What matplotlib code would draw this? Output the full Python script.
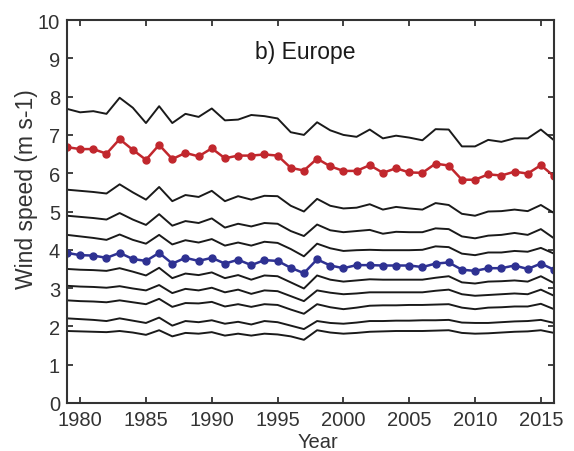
import numpy as np
import matplotlib
matplotlib.use('Agg')
from matplotlib import pyplot as plt

plt.rcParams['font.family'] = ['Liberation Sans', 'DejaVu Sans']

years = np.arange(1979, 2017)

# black percentile lines, top to bottom
p_top = [7.68, 7.59, 7.62, 7.55, 7.97, 7.71, 7.31, 7.75, 7.31, 7.55, 7.47, 7.69, 7.38, 7.40, 7.52, 7.49, 7.43, 7.07, 7.00,
         7.33, 7.12, 7.00, 6.95, 7.14, 6.91, 6.98, 6.93, 6.86, 7.15, 7.14, 6.70, 6.70, 6.87, 6.82, 6.91, 6.91, 7.14, 6.86]
p_3 = [5.57, 5.54, 5.51, 5.47, 5.71, 5.50, 5.31, 5.64, 5.27, 5.43, 5.38, 5.54, 5.27, 5.40, 5.31, 5.41, 5.40, 5.15, 5.00,
       5.33, 5.15, 5.08, 5.10, 5.19, 5.05, 5.12, 5.08, 5.05, 5.22, 5.17, 4.94, 4.89, 5.00, 5.01, 5.05, 5.01, 5.17, 4.96]
p_4 = [4.89, 4.86, 4.83, 4.79, 4.96, 4.79, 4.65, 4.93, 4.63, 4.75, 4.70, 4.82, 4.58, 4.68, 4.61, 4.70, 4.68, 4.49, 4.36,
       4.66, 4.51, 4.46, 4.49, 4.52, 4.42, 4.47, 4.46, 4.46, 4.56, 4.54, 4.35, 4.30, 4.37, 4.39, 4.44, 4.39, 4.54, 4.30]
p_5 = [4.39, 4.35, 4.31, 4.26, 4.40, 4.26, 4.16, 4.39, 4.14, 4.25, 4.19, 4.28, 4.11, 4.19, 4.11, 4.21, 4.18, 4.02, 3.83,
       4.16, 4.04, 3.97, 3.99, 4.00, 3.99, 3.99, 3.99, 4.00, 4.09, 4.07, 3.90, 3.86, 3.93, 3.93, 3.97, 3.95, 4.05, 3.90]
p_7 = [3.50, 3.48, 3.47, 3.45, 3.52, 3.43, 3.33, 3.53, 3.26, 3.38, 3.34, 3.41, 3.26, 3.34, 3.22, 3.33, 3.31, 3.15, 2.99,
       3.33, 3.22, 3.17, 3.20, 3.23, 3.22, 3.22, 3.22, 3.22, 3.27, 3.31, 3.15, 3.12, 3.17, 3.18, 3.20, 3.17, 3.31, 3.13]
p_8 = [3.06, 3.04, 3.03, 3.01, 3.05, 2.99, 2.94, 3.08, 2.87, 2.98, 2.94, 3.01, 2.89, 2.96, 2.85, 2.94, 2.92, 2.79, 2.66,
       2.94, 2.88, 2.84, 2.86, 2.89, 2.89, 2.89, 2.89, 2.89, 2.93, 2.96, 2.84, 2.80, 2.82, 2.84, 2.86, 2.84, 2.96, 2.80]
p_9 = [2.68, 2.66, 2.65, 2.63, 2.68, 2.63, 2.58, 2.72, 2.51, 2.61, 2.60, 2.64, 2.52, 2.58, 2.51, 2.58, 2.56, 2.44, 2.33,
       2.58, 2.50, 2.45, 2.49, 2.54, 2.55, 2.55, 2.56, 2.56, 2.57, 2.58, 2.49, 2.45, 2.49, 2.50, 2.52, 2.52, 2.59, 2.45]
p_10 = [2.21, 2.19, 2.17, 2.14, 2.21, 2.15, 2.09, 2.23, 2.02, 2.14, 2.11, 2.16, 2.07, 2.12, 2.05, 2.14, 2.11, 2.02, 1.93,
        2.14, 2.09, 2.07, 2.10, 2.14, 2.14, 2.15, 2.15, 2.16, 2.16, 2.17, 2.10, 2.09, 2.09, 2.11, 2.13, 2.14, 2.17, 2.09]
p_11 = [1.88, 1.87, 1.86, 1.85, 1.88, 1.84, 1.78, 1.90, 1.74, 1.83, 1.81, 1.85, 1.76, 1.81, 1.76, 1.81, 1.79, 1.74, 1.65,
        1.90, 1.84, 1.81, 1.83, 1.86, 1.87, 1.88, 1.88, 1.88, 1.89, 1.90, 1.83, 1.81, 1.82, 1.84, 1.86, 1.87, 1.90, 1.83]

red = [6.68, 6.63, 6.63, 6.51, 6.89, 6.61, 6.35, 6.74, 6.37, 6.53, 6.44, 6.65, 6.39, 6.46, 6.46, 6.49, 6.46, 6.14, 6.07,
       6.38, 6.18, 6.06, 6.06, 6.21, 6.01, 6.13, 6.02, 6.01, 6.25, 6.20, 5.83, 5.83, 5.97, 5.94, 6.04, 5.99, 6.21, 5.92]
blue = [3.92, 3.86, 3.85, 3.79, 3.92, 3.76, 3.71, 3.92, 3.64, 3.79, 3.71, 3.79, 3.64, 3.74, 3.60, 3.73, 3.71, 3.53, 3.39,
        3.75, 3.59, 3.52, 3.60, 3.60, 3.59, 3.59, 3.59, 3.55, 3.64, 3.67, 3.48, 3.45, 3.52, 3.52, 3.59, 3.50, 3.64, 3.48]

xticks = [1980, 1985, 1990, 1995, 2000, 2005, 2010, 2015]

fig = plt.figure(figsize=(5.74, 4.52), dpi=100)
ax = fig.add_axes([0.1167, 0.1062, 0.8485, 0.8473])

for p in [p_top, p_3, p_4, p_5, p_7, p_8, p_9, p_10, p_11]:
    ax.plot(years, p, color='#1a1a1a', lw=1.4)
ax.plot(years, red, color='#c1272d', lw=1.8, marker='o', ms=5)
ax.plot(years, blue, color='#2e3192', lw=1.8, marker='o', ms=5)

ax.set_xlim(1979, 2016)
ax.set_ylim(0, 10)
ax.set_xticks(xticks)
ax.set_yticks(range(0, 11))
ax.tick_params(direction='in', top=True, right=True, length=4, width=1.3,
               labelsize=14.5, labelcolor='#333333', color='#333333', pad=5)
for s in ax.spines.values():
    s.set_linewidth(1.5)
    s.set_color('#333333')

ax.set_ylabel('Wind speed (m s-1)', fontsize=16.5, color='#333333')
ax.yaxis.set_label_coords(-0.0595, 0.561)
ax.set_xlabel('Year', fontsize=14.5, color='#333333', labelpad=2.5)
ax.xaxis.label.set_x(0.516)
ax.text(0.49, 0.919, 'b) Europe', transform=ax.transAxes, ha='center', va='center',
        fontsize=16.5, color='#1a1a1a')

plt.savefig('out.png', dpi=100)
